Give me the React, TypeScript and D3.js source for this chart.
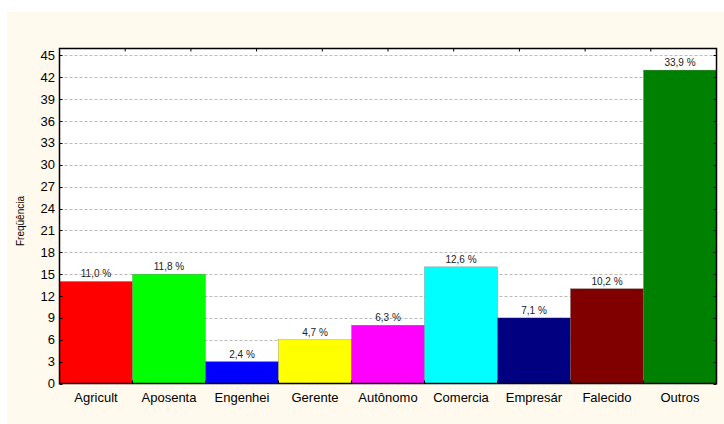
import React from "react";
import * as d3 from "d3";

const categories = ["Agricult", "Aposenta", "Engenhei", "Gerente", "Autônomo", "Comercia", "Empresár", "Falecido", "Outros"];
const counts = [14, 15, 3, 6, 8, 16, 9, 13, 43];
const percentLabels = ["11,0 %", "11,8 %", "2,4 %", "4,7 %", "6,3 %", "12,6 %", "7,1 %", "10,2 %", "33,9 %"];
const barColors = ["#FF0000", "#00FF00", "#0000FF", "#FFFF00", "#FF00FF", "#00FFFF", "#000080", "#800000", "#008000"];
const yTicks = [0, 3, 6, 9, 12, 15, 18, 21, 24, 27, 30, 33, 36, 39, 42, 45];

const W = 724, H = 424;
const L = 59.5, R = 716.5, T = 48.5, B = 383.5;
const font = "'Liberation Sans', Arial, sans-serif";

export default function App() {
  const x = d3.scaleBand<string>().domain(categories).range([L, R]).padding(0);
  const y = d3.scaleLinear().domain([0, 45.96]).range([B, T]);
  const topTicks = d3.range(11).map((i) => L + (i * (R - L)) / 10);
  const bandEdges = d3.range(categories.length + 1).map((i) => L + i * x.bandwidth());

  return (
    <svg width={W} height={H} style={{ position: "absolute", left: 0, top: 0 }} fontFamily={font}>
      <rect x={0} y={0} width={W} height={H} fill="#FFFFFF" />
      <rect x={7} y={12} width={W - 7} height={H - 12} fill="#FFF9EE" />
      <rect x={L} y={T} width={R - L} height={B - T} fill="#FFFFFF" />
      {yTicks.filter((t) => t > 0).map((t) => (
        <line key={"g" + t} x1={L} x2={R} y1={Math.round(y(t)) + 0.5} y2={Math.round(y(t)) + 0.5}
          stroke="#BBBBBB" strokeWidth={1} strokeDasharray="3,2" />
      ))}
      {counts.map((c, i) => (
        <rect key={"b" + i} x={x(categories[i])} y={y(c)} width={x.bandwidth()} height={B - y(c)}
          fill={barColors[i]} stroke="#666" strokeWidth={0.3} />
      ))}
      {counts.map((c, i) => (
        <text key={"v" + i} x={(x(categories[i]) as number) + x.bandwidth() / 2} y={y(c) - 4}
          textAnchor="middle" fontSize={10} fill="#222">{percentLabels[i]}</text>
      ))}
      <rect x={L} y={T} width={R - L} height={B - T} fill="none" stroke="#000" strokeWidth={1.5} />
      {yTicks.map((t) => (
        <g key={"t" + t}>
          <line x1={L} x2={L + 3} y1={Math.round(y(t)) + 0.5} y2={Math.round(y(t)) + 0.5} stroke="#000" />
          <line x1={R - 3} x2={R} y1={Math.round(y(t)) + 0.5} y2={Math.round(y(t)) + 0.5} stroke="#000" />
          <text x={55} y={y(t) + 4.5} textAnchor="end" fontSize={13} fill="#000">{t}</text>
        </g>
      ))}
      {topTicks.map((tx, i) => (
        <line key={"tt" + i} x1={tx} x2={tx} y1={T} y2={T + 3} stroke="#000" />
      ))}
      {bandEdges.map((tx, i) => (
        <line key={"bt" + i} x1={tx} x2={tx} y1={B} y2={B - 3} stroke="#000" />
      ))}
      {categories.map((c) => (
        <text key={"c" + c} x={(x(c) as number) + x.bandwidth() / 2} y={402} textAnchor="middle" fontSize={13} fill="#000">{c}</text>
      ))}
      <text transform="translate(24,221) rotate(-90)" textAnchor="middle" fontSize={10} fill="#000">Freqüência</text>
    </svg>
  );
}
